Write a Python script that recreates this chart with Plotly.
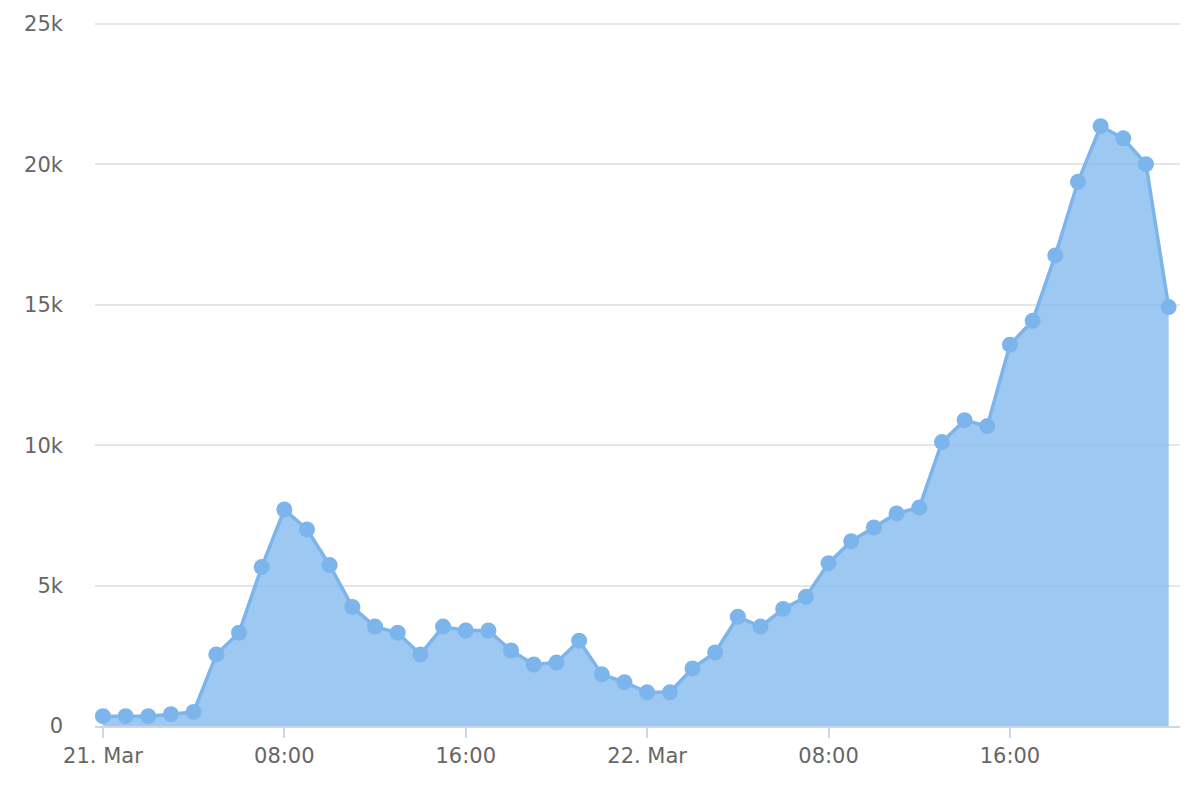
import plotly.graph_objects as go
import pandas as pd

start = "2020-03-21 00:00"
values = [350, 350, 350, 420, 500, 2550, 3320, 5660, 7710, 7000, 5730, 4240,
          3540, 3320, 2550, 3540, 3400, 3400, 2690, 2190, 2260, 3040, 1840, 1560,
          1200, 1200, 2050, 2620, 3890, 3540, 4170, 4600, 5800, 6580, 7070, 7570,
          7780, 10110, 10890, 10680, 13580, 14430, 16760, 19380, 21360, 20930, 20010, 14920]
tick_times = ["2020-03-21 00:00", "2020-03-21 08:00", "2020-03-21 16:00",
              "2020-03-22 00:00", "2020-03-22 08:00", "2020-03-22 16:00"]
tick_labels = ["21. Mar", "08:00", "16:00", "22. Mar", "08:00", "16:00"]
y_ticks = [0, 5000, 10000, 15000, 20000, 25000]
y_labels = ["0", "5k", "10k", "15k", "20k", "25k"]

times = pd.date_range(start, periods=len(values), freq="h")

fig = go.Figure()
fig.add_trace(go.Scatter(
    x=times, y=values, mode="lines+markers",
    fill="tozeroy", fillcolor="rgba(124,181,236,0.75)",
    line=dict(color="#7cb5ec", width=3.5),
    marker=dict(color="#7cb5ec", size=16),
    hoverinfo="x+y", showlegend=False,
))

t0 = pd.Timestamp(start)
fig.update_layout(
    width=1200, height=800,
    margin=dict(l=95, r=20, t=18, b=74),
    paper_bgcolor="white", plot_bgcolor="white",
    font=dict(family="DejaVu Sans", color="#666666", size=21),
    xaxis=dict(
        range=[t0 - pd.Timedelta(hours=0.35), t0 + pd.Timedelta(hours=47.5)],
        tickvals=pd.to_datetime(tick_times), ticktext=tick_labels,
        showgrid=False, zeroline=False,
        showline=True, linecolor="#ccd6eb", linewidth=2,
        ticks="outside", ticklen=10, tickcolor="#ccd6eb", tickwidth=2,
        tickfont=dict(size=21, color="#666666"),
    ),
    yaxis=dict(
        range=[0, 25036],
        tickvals=y_ticks, ticktext=y_labels,
        showgrid=True, gridcolor="#e6e6e6", gridwidth=1.5,
        zeroline=False, showline=False, ticks="",
        ticklabelstandoff=31,
        tickfont=dict(size=21, color="#666666"),
    ),
)
fig.write_html("out.html", config={"displayModeBar": False},
               post_script="document.body.style.margin='0px';")
